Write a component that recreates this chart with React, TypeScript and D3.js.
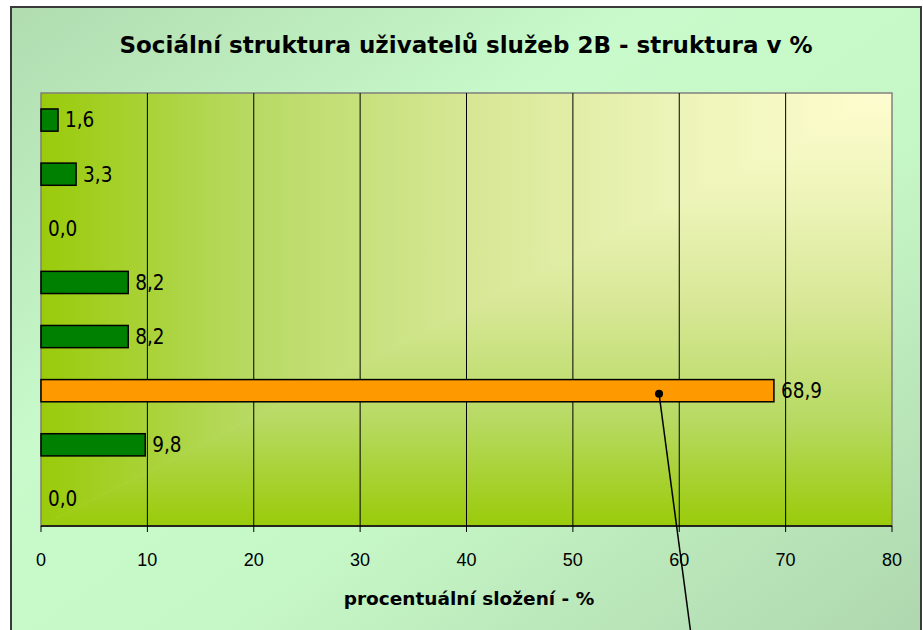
import React from "react";
import * as d3 from "d3";

const categories = ["k1", "k2", "k3", "k4", "k5", "k6", "k7", "k8"];
const values = [1.6, 3.3, 0.0, 8.2, 8.2, 68.9, 9.8, 0.0];
const highlighted = [false, false, false, false, false, true, false, false];
const xTicks = [0, 10, 20, 30, 40, 50, 60, 70, 80];
const title = "Sociální struktura uživatelů služeb 2B - struktura v %";
const xTitle = "procentuální složení - %";

const W = 923;
const H = 630;
const plot = { left: 41, top: 93, right: 892, bottom: 526 };

const gradStops: [number, string][] = [
  [0, "#fffdd0"],
  [0.25, "#edf4b8"],
  [0.5, "#d6e794"],
  [0.75, "#b8da64"],
  [1, "#9acb0a"],
];

export default function App() {
  const x = d3.scaleLinear().domain([0, 80]).range([plot.left, plot.right]);
  const y = d3
    .scaleBand<string>()
    .domain(categories)
    .range([plot.top, plot.bottom])
    .paddingInner(0.59)
    .paddingOuter(0.295);
  const fmt = (v: number) => v.toFixed(1).replace(".", ",");
  const hiIdx = highlighted.indexOf(true);
  const hiY = (y(categories[hiIdx]) as number) + y.bandwidth() / 2;
  const dotX = x(58.1);

  const { left: L, top: T, right: R, bottom: B } = plot;
  const triH = `${L},${T} ${R},${T} ${L},${B}`;
  const triV = `${R},${T} ${R},${B} ${L},${B}`;

  return (
    <svg
      width={W}
      height={H}
      style={{ position: "absolute", left: 0, top: 0, display: "block" }}
    >
      <defs>
        <linearGradient id="frameGrad" x1="0" y1="0" x2="1" y2="1">
          <stop offset="0" stopColor="#b0dcb0" />
          <stop offset="0.35" stopColor="#c8facb" />
          <stop offset="0.6" stopColor="#c6f7c6" />
          <stop offset="1" stopColor="#aed6ae" />
        </linearGradient>
        <linearGradient
          id="plotH"
          gradientUnits="userSpaceOnUse"
          x1={R}
          y1={T}
          x2={L}
          y2={T}
        >
          {gradStops.map(([o, c]) => (
            <stop key={o} offset={o} stopColor={c} />
          ))}
        </linearGradient>
        <linearGradient
          id="plotV"
          gradientUnits="userSpaceOnUse"
          x1={R}
          y1={T}
          x2={R}
          y2={B}
        >
          {gradStops.map(([o, c]) => (
            <stop key={o} offset={o} stopColor={c} />
          ))}
        </linearGradient>
      </defs>
      <rect x={0} y={0} width={W} height={H} fill="#ffffff" />
      <rect
        x={11}
        y={7}
        width={910}
        height={640}
        fill="url(#frameGrad)"
        stroke="#3a3a3a"
        strokeWidth={2}
      />
      <text
        x={466}
        y={53}
        textAnchor="middle"
        fontFamily="'DejaVu Sans', sans-serif"
        fontWeight="bold"
        fontSize={23}
        fill="#000"
      >
        {title}
      </text>

      <polygon points={triH} fill="url(#plotH)" stroke="url(#plotH)" strokeWidth={0.6} />
      <polygon points={triV} fill="url(#plotV)" stroke="url(#plotV)" strokeWidth={0.6} />
      <rect
        x={L}
        y={T}
        width={R - L}
        height={B - T}
        fill="none"
        stroke="#808080"
        strokeWidth={1.5}
      />
      {xTicks
        .filter((t) => t > 0 && t < 80)
        .map((t) => (
          <line
            key={"g" + t}
            x1={x(t)}
            x2={x(t)}
            y1={T}
            y2={B}
            stroke="#000"
            strokeWidth={1}
          />
        ))}
      <line x1={L} x2={R} y1={B} y2={B} stroke="#000" strokeWidth={1.5} />
      {xTicks.map((t) => (
        <g key={"t" + t}>
          <line
            x1={x(t)}
            x2={x(t)}
            y1={B}
            y2={B + 6}
            stroke="#000"
            strokeWidth={1}
          />
          <text
            x={x(t)}
            y={566}
            textAnchor="middle"
            fontFamily="'Liberation Sans', Arial, sans-serif"
            fontSize={18}
            fill="#000"
          >
            {t}
          </text>
        </g>
      ))}

      {categories.map((c, i) => {
        const v = values[i];
        const by = y(c) as number;
        const bh = y.bandwidth();
        return (
          <g key={c}>
            {v > 0 && (
              <rect
                x={x(0)}
                y={by}
                width={x(v) - x(0)}
                height={bh}
                fill={highlighted[i] ? "#ff9900" : "#008000"}
                stroke="#000"
                strokeWidth={1.5}
              />
            )}
            <text
              x={x(v) + 7}
              y={by + bh / 2}
              dy="0.36em"
              fontFamily="'DejaVu Sans Condensed', 'DejaVu Sans', sans-serif"
              fontSize={20.5}
              fill="#000"
            >
              {fmt(v)}
            </text>
          </g>
        );
      })}

      <line
        x1={dotX}
        y1={hiY + 3}
        x2={dotX + 34}
        y2={H + 20}
        stroke="#000"
        strokeWidth={1.5}
      />
      <circle cx={dotX} cy={hiY + 3} r={4} fill="#000" />

      <text
        x={469}
        y={605}
        textAnchor="middle"
        fontFamily="'DejaVu Sans', sans-serif"
        fontWeight="bold"
        fontSize={18.5}
        fill="#000"
      >
        {xTitle}
      </text>
    </svg>
  );
}
